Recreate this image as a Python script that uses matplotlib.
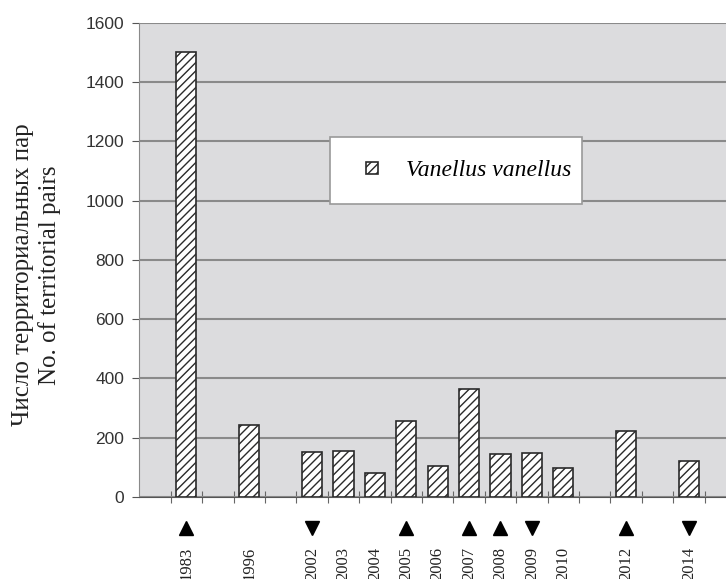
import matplotlib.pyplot as plt
import matplotlib.transforms as mtransforms
from matplotlib.patches import Rectangle
from matplotlib.legend_handler import HandlerPatch

# categories (empty strings are gaps on the category axis)
years = ['', '1983', '', '1996', '', '2002', '2003', '2004', '2005', '2006',
         '2007', '2008', '2009', '2010', '', '2012', '', '2014']
pairs = [None, 1500, None, 243, None, 153, 156, 80, 257, 105,
         364, 144, 150, 98, None, 224, None, 121]
trend = ['', 'up', '', '', '', 'down', '', '', 'up', '',
         'up', 'up', 'down', '', '', 'up', '', 'down']

plt.rcParams['hatch.linewidth'] = 1.0

fig = plt.figure(figsize=(7.26, 5.79), dpi=100)
ax = fig.add_axes([0.1919, 0.1416, 0.8081, 0.8192])
ax.set_facecolor('#dcdcde')

xs = [i for i, v in enumerate(pairs) if v is not None]
vals = [v for v in pairs if v is not None]
bars = ax.bar(xs, vals, width=0.64, color='white', edgecolor='#2a2a2a',
              hatch='////', linewidth=1.2, zorder=3, label='Vanellus vanellus')

ax.set_xlim(-0.5, 18.18)
ax.set_ylim(0, 1600)
ax.set_yticks(range(0, 1601, 200))
ax.grid(axis='y', color='#8a8a8a', linewidth=1.5, zorder=1)
ax.set_axisbelow(True)

for s in ['top', 'right']:
    ax.spines[s].set_visible(False)
ax.spines['left'].set_color('#8a8a8a')
ax.spines['bottom'].set_color('#555555')

ax.tick_params(axis='y', length=5, color='#555555', pad=6,
               labelsize=12.5, labelcolor='#333333')
for lab in ax.get_yticklabels():
    lab.set_family(['Liberation Sans', 'DejaVu Sans'])

# ticks between categories, labels at category centres
ax.set_xticks([i + 0.5 for i in range(len(years))])
ax.set_xticklabels([])
ax.tick_params(axis='x', which='major', direction='inout', length=8,
               color='#666666')
ax.set_xticks(range(len(years)), minor=True)
ax.set_xticklabels(years, minor=True, rotation=90, va='top',
                   family='Liberation Serif', fontsize=12, color='#222222')
ax.tick_params(axis='x', which='minor', length=0, pad=36)

trans = mtransforms.blended_transform_factory(ax.transData, ax.transAxes)
for i, t in enumerate(trend):
    if t == 'up':
        ax.plot(i, -0.0653, marker='^', color='black', ms=10,
                transform=trans, clip_on=False)
    elif t == 'down':
        ax.plot(i, -0.0653, marker='v', color='black', ms=10,
                transform=trans, clip_on=False)

fig.text(0.05, 0.525, 'Число территориальных пар\nNo. of territorial pairs',
         rotation=90, ha='center', va='center', multialignment='center',
         family='Liberation Serif', fontsize=18, color='#222222',
         linespacing=1.25)


def small_patch(legend, orig_handle, xdescent, ydescent, width, height, fontsize):
    h = 9
    return Rectangle((width - xdescent - h, height / 2 - ydescent - h / 2), h, h)


leg = ax.legend(handles=[bars.patches[0]], labels=['Vanellus vanellus'],
                loc='center', mode='expand',
                bbox_to_anchor=(330 / 726, 1 - 204 / 579, 252 / 726, 67 / 579),
                bbox_transform=fig.transFigure, fancybox=False,
                framealpha=1, edgecolor='#999999', borderpad=0.95,
                borderaxespad=0, handlelength=1.1, handletextpad=1.19,
                prop={'family': 'Liberation Serif', 'style': 'italic', 'size': 17},
                handler_map={Rectangle: HandlerPatch(patch_func=small_patch)})
leg.get_frame().set_linewidth(1.2)

fig.savefig('out.png', dpi=100)
